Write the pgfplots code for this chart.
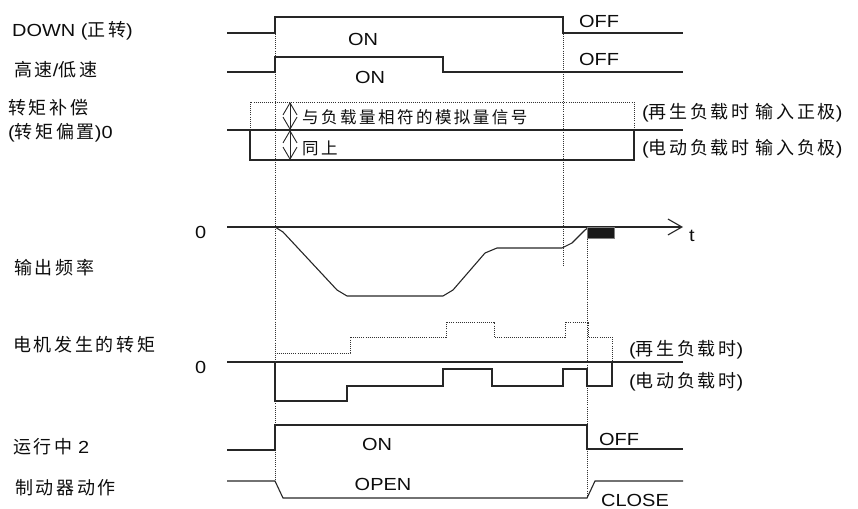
\documentclass[border=0pt]{standalone}
\usepackage{fontspec}
\setmainfont{Liberation Sans}[FakeStretch=1.14]
\newfontfamily\cjkfont{Noto Sans CJK SC}[LetterSpace=15]
\newcommand\cj[1]{{\fontsize{18}{20}\cjkfont #1}}
\newcommand\cjs[1]{{\fontsize{16.5}{20}\cjkfont #1}}
\usepackage{pgfplots}
\pgfplotsset{compat=1.18}
\usetikzlibrary{arrows.meta}

\tikzset{
  sig/.style={color=black!85, line width=1.1pt},
  dot/.style={color=black!80, line width=0.8pt, dash pattern=on 0.9pt off 1.2pt},
  lbl/.style={anchor=west, font=\fontsize{17.5}{20}\selectfont, text=black!95, inner sep=0pt},
  st/.style={anchor=center, font=\fontsize{17.5}{20}\selectfont, text=black!95, inner sep=0pt},
}

\begin{document}
\begin{tikzpicture}
\begin{axis}[
  name=ax,
  scale only axis, width=858pt, height=508pt,
  xmin=0, xmax=858, ymin=0, ymax=508, y dir=reverse,
  hide axis, clip=false, no markers,
]
% dotted timing guides
\addplot[dot] coordinates {(275,17) (275,481)};
\addplot[dot] coordinates {(563,17) (563,265)};
\addplot[dot] coordinates {(587,228) (587,497)};

% DOWN
\addplot[sig] coordinates {(227,33) (275,33) (275,17) (563,17) (563,33) (683,33)};
% high / low speed
\addplot[sig] coordinates {(227,72) (275,72) (275,57) (443,57) (443,72) (683,72)};

% torque compensation
\addplot[dot] coordinates {(250,130) (250,102) (634,102) (634,130)};
\addplot[sig] coordinates {(227,130) (683,130)};
\addplot[sig] coordinates {(250,130) (250,160) (634,160) (634,130)};
\addplot[color=black!85, line width=0.9pt, {Straight Barb[length=12pt,width=14pt]}-{Straight Barb[length=12pt,width=14pt]}] coordinates {(290,102) (290,130)};
\addplot[color=black!85, line width=0.9pt, {Straight Barb[length=12pt,width=14pt]}-{Straight Barb[length=12pt,width=14pt]}] coordinates {(290,130) (290,160)};

% output frequency
\addplot[sig, -{Straight Barb[length=14pt,width=16pt]}] coordinates {(227,227) (683,227)};
\addplot[sig] coordinates {(262,227) (275,227) (283,232) (337,290) (347,296) (443,296) (453,290) (485,253) (497,248) (562,248) (572,243) (585,230) (589,227)};
\addplot[fill=black!90, draw=black!50, line width=0.8pt] coordinates {(587,227) (614,227) (614,238) (587,238)} -- cycle;

% motor torque
\addplot[sig] coordinates {(227,362) (683,362)};
\addplot[dot] coordinates {(275,362) (275,353) (350,353) (350,337) (446,337) (446,322) (494,322) (494,337) (565,337) (565,322) (588,322) (588,337) (612,337) (612,362)};
\addplot[sig] coordinates {(275,362) (275,401) (347,401) (347,386) (443,386) (443,369) (492,369) (492,386) (563,386) (563,369) (587,369) (587,386) (612,386) (612,362)};

% running 2
\addplot[sig] coordinates {(227,450) (275,450) (275,425) (587,425) (587,449) (683,449)};
% brake
\addplot[sig] coordinates {(227,481) (275,481) (283,498) (587,498) (595,481) (683,481)};

% labels
\node[lbl] at (axis cs:12,31) {DOWN (\cj{正转})};
\node[lbl] at (axis cs:14,70) {\cj{高速}/\cj{低速}};
\node[lbl] at (axis cs:8,108) {\cj{转矩补偿}};
\node[lbl] at (axis cs:8,133) {(\cj{转矩偏置})0};
\node[lbl] at (axis cs:14,268) {\cj{输出频率}};
\node[lbl] at (axis cs:13,345) {\cj{电机发生的转矩}};
\node[lbl] at (axis cs:13,447) {\cj{运行中} 2};
\node[lbl] at (axis cs:15,488) {\cj{制动器动作}};
\node[lbl] at (axis cs:195,232) {0};
\node[lbl] at (axis cs:195,367) {0};
\node[lbl] at (axis cs:689,236) {t};

\node[st] at (axis cs:363,39) {ON};
\node[st] at (axis cs:370,77) {ON};
\node[st] at (axis cs:599,21) {OFF};
\node[st] at (axis cs:599,59) {OFF};
\node[st] at (axis cs:377,444) {ON};
\node[st] at (axis cs:383,484) {OPEN};
\node[st] at (axis cs:619,439) {OFF};
\node[st] at (axis cs:635,500) {CLOSE};

\node[lbl] at (axis cs:302,117) {\cjs{与负载量相符的模拟量信号}};
\node[lbl] at (axis cs:302,148) {\cjs{同上}};
\node[lbl] at (axis cs:642,113) {(\cj{再生负载时}\hspace{6pt}\cj{输入正极})};
\node[lbl] at (axis cs:642,149) {(\cj{电动负载时}\hspace{6pt}\cj{输入负极})};
\node[lbl] at (axis cs:629,350) {(\cj{再生负载时})};
\node[lbl] at (axis cs:629,382) {(\cj{电动负载时})};
\end{axis}
\pgfresetboundingbox
\useasboundingbox (ax.south west) rectangle (ax.north east);
\end{tikzpicture}
\end{document}
